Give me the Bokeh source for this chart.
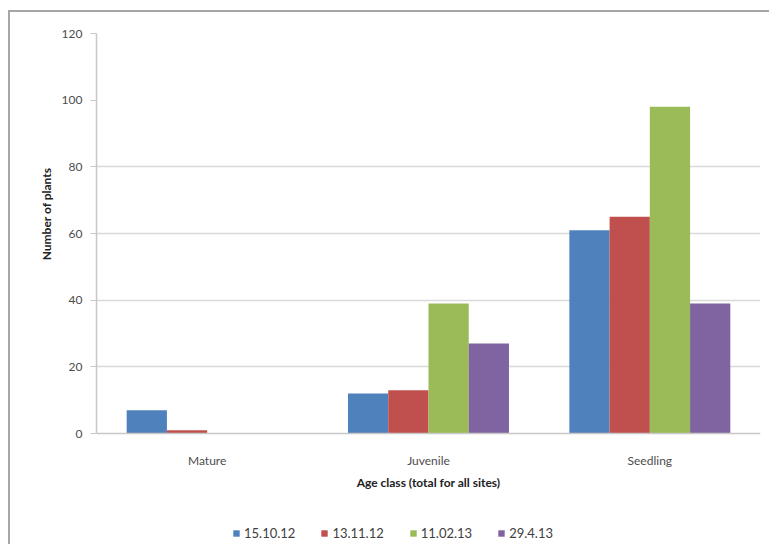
from bokeh.plotting import figure
from bokeh.models import ColumnDataSource, FixedTicker, Legend, LegendItem, Range1d, Title
from bokeh.transform import dodge
from bokeh.embed import file_html
from bokeh.resources import INLINE

categories = ["Mature", "Juvenile", "Seedling"]
series_names = ["15.10.12", "13.11.12", "11.02.13", "29.4.13"]
s_151012 = [7, 12, 61]
s_131112 = [1, 13, 65]
s_110213 = [0, 39, 98]
s_29413 = [0, 27, 39]
y_ticks = [0, 20, 40, 60, 80, 100, 120]
colors = ["#4F81BD", "#C0504D", "#9BBB59", "#8064A2"]

src = ColumnDataSource(dict(cat=categories, a=s_151012, b=s_131112, c=s_110213, d=s_29413))

FONT = "Lato"
FIG_H = 534
TOP = 21
plot_px = 400  # pixels for 0..120
y_start = 120 - (FIG_H - TOP) * 120 / plot_px

p = figure(x_range=categories, y_range=Range1d(y_start, 120), width=761, height=FIG_H,
           output_backend="svg", toolbar_location=None,
           min_border_left=86, min_border_right=11, min_border_top=TOP, min_border_bottom=0,
           styles={"margin-left": "8px", "margin-top": "10px",
                   "border-left": "2px solid #a6a6a6", "border-top": "2px solid #a6a6a6"})
p.x_range.range_padding = 0
p.outline_line_color = None

bw = 1.0 / 5.5
offs = [-1.5 * bw, -0.5 * bw, 0.5 * bw, 1.5 * bw]
items = []
for key, off, col, name in zip(["a", "b", "c", "d"], offs, colors, series_names):
    r = p.vbar(x=dodge("cat", off, range=p.x_range), top=key, width=bw, source=src,
               fill_color=col, line_color=None)
    items.append(LegendItem(label=name, renderers=[r]))

p.xgrid.grid_line_color = None
p.ygrid.ticker = FixedTicker(ticks=[20, 40, 60, 80, 120])
p.ygrid.grid_line_color = "#d9d9d9"
p.ygrid.grid_line_width = 1.5

p.yaxis.ticker = FixedTicker(ticks=y_ticks)
p.yaxis.bounds = (0, 120)
for ax in (p.xaxis[0], p.yaxis[0]):
    ax.axis_line_color = "#c8c8c8"
    ax.axis_line_width = 1.5
    ax.major_tick_line_color = "#c8c8c8"
    ax.minor_tick_line_color = None
    ax.major_label_text_font = FONT
    ax.major_label_text_font_size = "12px"
    ax.major_label_text_color = "#4d4d4d"
    ax.axis_label_text_font = FONT
    ax.axis_label_text_font_size = "12px"
    ax.axis_label_text_font_style = "bold"
    ax.axis_label_text_color = "#222222"

p.yaxis.major_tick_out = 6
p.yaxis.major_tick_in = 0
p.yaxis.major_label_standoff = 8

ytitle = Title(text="Number of plants", align="right", offset=134, standoff=10,
               text_font=FONT, text_font_size="12px", text_font_style="bold",
               text_color="#222222")
p.add_layout(ytitle, "left")

p.xaxis.fixed_location = 0
p.xaxis.axis_label = "Age class (total for all sites)"
p.xaxis.major_tick_line_color = None
p.xaxis.major_label_standoff = 13
p.xaxis.axis_label_standoff = 4

legend = Legend(items=items, orientation="horizontal", location=(136, 5),
                label_text_font=FONT, label_text_font_size="13px", label_text_color="#404040",
                glyph_width=8, glyph_height=8, spacing=25, label_standoff=4, label_height=14,
                border_line_color=None, background_fill_alpha=0, margin=0, padding=0)
p.add_layout(legend, "center")

open("out.html", "w").write(file_html(p, INLINE))
